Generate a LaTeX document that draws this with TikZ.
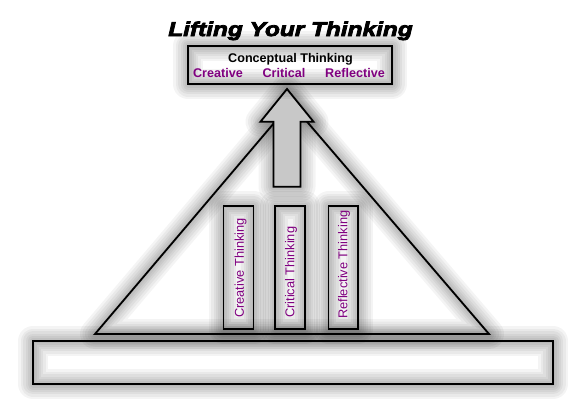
\documentclass[tikz,border=0pt]{standalone}
\usepackage{fontspec}
\setmainfont{Liberation Sans}
\newfontfamily\titlefont{Liberation Sans}[BoldItalicFeatures={FakeBold=4,FakeStretch=1.22}]
\definecolor{txtpurple}{RGB}{128,0,128}
\definecolor{arrowgray}{RGB}{200,200,200}
\tikzset{
  outline/.style={draw=black, line width=1.8pt, line join=miter},
  glowline/.style={draw=black, opacity=0.045, line join=round, line cap=round},
  vlabel/.style={rotate=90, anchor=west, text=txtpurple, inner sep=0pt,
                 font=\fontsize{12.8}{14}\selectfont},
  plabel/.style={text=txtpurple, anchor=base, inner sep=0pt,
                 font=\fontsize{12.6}{14}\selectfont\bfseries},
}
\newcommand\glowit[1]{\foreach \w in {30,25,20,15,11,7,3}{\path[glowline, line width=\w pt] #1;}}
\begin{document}
\begin{tikzpicture}[x=1pt,y=-1pt]
\useasboundingbox[fill=white] (0,0) rectangle (585,400);

% bottom bar
\coordinate (bbA) at (33,341);
\coordinate (bbB) at (553,384);
\glowit{(bbA) rectangle (bbB)}
\draw[outline] (bbA) rectangle (bbB);

% triangle
\coordinate (tL) at (95,334);
\coordinate (tT) at (291,103);
\coordinate (tR) at (489,334);
\glowit{(tL) -- (tT) -- (tR) -- cycle}
\draw[outline] (tL) -- (tT) -- (tR) -- cycle;

% pillars
\foreach \n/\xa/\xb in {p1/223.5/253.5, p2/275/305, p3/328.5/358}{
  \coordinate (\n a) at (\xa,206);
  \coordinate (\n b) at (\xb,329);
  \glowit{(\n a) rectangle (\n b)}
  \draw[outline] (\n a) rectangle (\n b);
}
\node[vlabel] (l1) at (240.5,318) {Creative Thinking};
\node[vlabel] (l2) at (291,318) {Critical Thinking};
\node[vlabel] (l3) at (344,319) {Reflective Thinking};

% arrow
\coordinate (aT) at (287,89);
\coordinate (aR) at (313.5,121.7);
\coordinate (aRs) at (300.5,121.7);
\coordinate (aRb) at (300.5,186.7);
\coordinate (aLb) at (273.5,186.7);
\coordinate (aLs) at (273.5,121.7);
\coordinate (aL) at (260.5,121.7);
\glowit{(aT) -- (aR) -- (aRs) -- (aRb) -- (aLb) -- (aLs) -- (aL) -- cycle}
\draw[outline, fill=arrowgray] (aT) -- (aR) -- (aRs) -- (aRb) -- (aLb) -- (aLs) -- (aL) -- cycle;

% top box
\coordinate (cbA) at (188,46);
\coordinate (cbB) at (392,84);
\glowit{(cbA) rectangle (cbB)}
\draw[outline] (cbA) rectangle (cbB);
\node[anchor=base, inner sep=0pt, font=\fontsize{12.6}{14}\selectfont\bfseries] (ct) at (290.5,62) {Conceptual Thinking};
\node[plabel] (c1) at (218,77) {Creative};
\node[plabel] (c2) at (284,77) {Critical};
\node[plabel] (c3) at (355,77) {Reflective};

% title
\node[anchor=base, inner sep=0pt, font=\titlefont\fontsize{20}{24}\selectfont\bfseries\itshape] (title) at (290.5,36) {Lifting Your Thinking};
\end{tikzpicture}
\end{document}
